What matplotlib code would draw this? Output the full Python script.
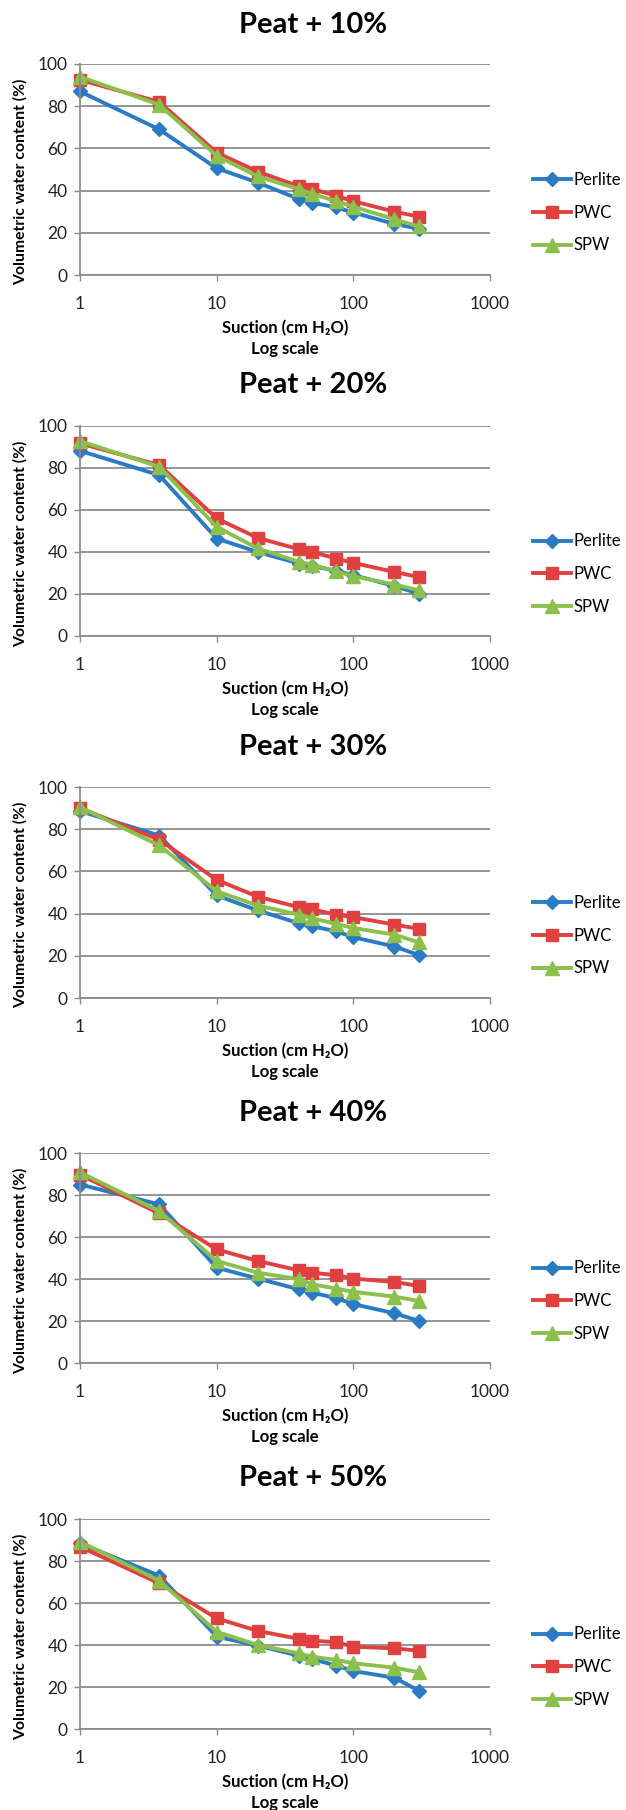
import matplotlib
matplotlib.use("Agg")
import matplotlib.pyplot as plt
from matplotlib.ticker import FixedLocator, NullLocator, FixedFormatter

# ---------------- data ----------------
suction = [1, 3.8, 10, 20, 40, 50, 75, 100, 200, 300]
titles = ["Peat + 10%", "Peat + 20%", "Peat + 30%", "Peat + 40%", "Peat + 50%"]
series_names = ["Perlite", "PWC", "SPW"]

perlite_10 = [87, 69, 50.6, 43.8, 36, 34.3, 32, 29.6, 24.2, 22]
pwc_10 = [92.5, 82, 58, 49, 42, 40.8, 37.5, 35, 30, 27.7]
spw_10 = [94, 80.7, 56.5, 46.7, 40.7, 38.5, 35, 32.4, 26.4, 23]

perlite_20 = [88.2, 76.6, 46.4, 40, 34.5, 33.4, 31, 29, 23.8, 20.2]
pwc_20 = [91.7, 81.4, 56, 46.7, 41.3, 40, 36.9, 34.8, 30.5, 28.1]
spw_20 = [92.8, 80.6, 52, 41.7, 35.3, 34, 30.8, 28.5, 24.5, 21.8]

perlite_30 = [88.6, 77, 48.6, 41.5, 35.4, 34, 31.6, 28.8, 24.4, 20.4]
pwc_30 = [90, 75, 56, 48, 43, 42, 39.5, 38.3, 34.8, 32.8]
spw_30 = [90.5, 72.3, 50.6, 43.8, 39.5, 37.8, 35.1, 33.2, 30, 26.4]

perlite_40 = [85, 75.5, 45.4, 40.2, 35.1, 33.5, 30.9, 28, 23.7, 20.1]
pwc_40 = [89.7, 71.2, 54.1, 48.6, 44.1, 43, 41.8, 40.2, 38.6, 36.7]
spw_40 = [90.8, 72.3, 48.6, 43, 39.9, 37.5, 35.4, 33.9, 31.6, 29.6]

perlite_50 = [88.4, 73, 44, 39.7, 34.9, 33.3, 30.2, 27.6, 24.4, 18.3]
pwc_50 = [86.8, 69.4, 52.7, 46.7, 42.9, 42.1, 41.3, 39.2, 38.4, 37.3]
spw_50 = [89.2, 70.6, 46.3, 40, 36, 34.4, 32.9, 31.3, 29.2, 27]

x_ticks = [1, 10, 100, 1000]
x_tick_labels = ["1", "10", "100", "1000"]
y_ticks = [0, 20, 40, 60, 80, 100]
y_tick_labels = ["0", "20", "40", "60", "80", "100"]

panels = [
    (perlite_10, pwc_10, spw_10),
    (perlite_20, pwc_20, spw_20),
    (perlite_30, pwc_30, spw_30),
    (perlite_40, pwc_40, spw_40),
    (perlite_50, pwc_50, spw_50),
]

# ---------------- style ----------------
colors = ["#2A7BC6", "#E0403F", "#8CC04C"]
markers = ["D", "s", "^"]
msizes = [7.5, 8.5, 9.5]
grid_col = "#8C8C8C"
FONT = ["Lato", "DejaVu Sans"]
plt.rcParams["font.family"] = FONT

W, H = 626, 1810
fig = plt.figure(figsize=(W / 100, H / 100), dpi=100)

# axes layout in pixel (top, bottom); title y
ax_left, ax_right = 80, 490
layout = [(64, 275, 25), (426, 636, 385), (787, 998, 747), (1153, 1363, 1113), (1519, 1729, 1478)]

for (top, bot, ty), title, data in zip(layout, titles, panels):
    ax = fig.add_axes([ax_left / W, 1 - bot / H, (ax_right - ax_left) / W, (bot - top) / H])
    for vals, name, c, m, ms in zip(data, series_names, colors, markers, msizes):
        ax.plot(suction, vals, color=c, marker=m, markersize=ms, linewidth=2.8,
                markeredgecolor=c, label=name, clip_on=False)
    ax.set_xscale("log")
    ax.set_xlim(1, 1000)
    ax.set_ylim(0, 100)
    ax.xaxis.set_major_locator(FixedLocator(x_ticks))
    ax.xaxis.set_major_formatter(FixedFormatter(x_tick_labels))
    ax.xaxis.set_minor_locator(NullLocator())
    ax.yaxis.set_major_locator(FixedLocator(y_ticks))
    ax.yaxis.set_major_formatter(FixedFormatter(y_tick_labels))
    ax.grid(axis="y", color=grid_col, linewidth=1.3)
    ax.set_axisbelow(True)
    for s in ["top", "right"]:
        ax.spines[s].set_visible(False)
    for s in ["left", "bottom"]:
        ax.spines[s].set_color(grid_col)
        ax.spines[s].set_linewidth(1.3)
    ax.tick_params(axis="both", direction="out", length=4, width=1, color=grid_col,
                   labelsize=12.5, labelcolor="#222222")
    ax.tick_params(axis="x", pad=11)
    ax.tick_params(axis="y", pad=5)

    fig.text(20 / W, 1 - (top + 118) / H, "Volumetric water content (%)",
             rotation=90, ha="center", va="center", fontsize=11.3, fontweight="bold")
    cx = ax_left / W + (ax_right - ax_left) / W / 2
    fig.text(cx, 1 - (bot + 53) / H, "Suction (cm H\u2082O)", ha="center",
             va="center", fontsize=12, fontweight="bold")
    fig.text(cx, 1 - (bot + 74) / H, "Log scale", ha="center", va="center",
             fontsize=12, fontweight="bold")
    fig.text(0.5, 1 - ty / H, title, ha="center", va="center", fontsize=21,
             fontweight="bold")
    ax.legend(loc="center left", bbox_to_anchor=(1.105, 0.295), frameon=False,
              fontsize=12, handlelength=2.3, handletextpad=0.15,
              labelspacing=1.0, borderpad=0, borderaxespad=0)

fig.savefig("out.png", dpi=100, facecolor="white")
